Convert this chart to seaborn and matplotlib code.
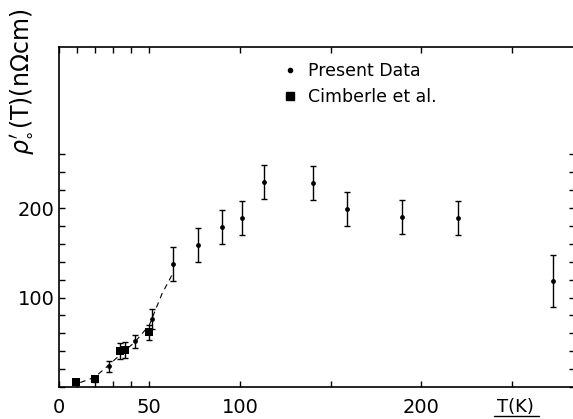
import matplotlib
matplotlib.use("Agg")
import matplotlib.pyplot as plt
import seaborn as sns
import pandas as pd
from matplotlib.lines import Line2D

# Datos
present_T = [28, 42, 51.5, 63, 77, 90, 101, 113, 140, 159, 189, 220, 272.5]
present_rho = [23, 51, 76, 138, 159, 179, 189, 229, 228, 199, 190, 189, 118]
present_err = [6, 7, 11, 19, 19, 19, 19, 19, 19, 19, 19, 19, 29]

cimberle_T = [9.5, 20, 34, 36.5, 49.7]
cimberle_rho = [6, 9, 40, 41, 61]
cimberle_err = [0, 3, 9, 9, 8]

guia_T = [12, 20, 28, 35, 42, 50, 57, 63]
guia_rho = [5, 11, 25, 38, 50, 69, 104, 127]

x_ticks = [0, 10, 20, 30, 40, 50, 100, 150, 200, 250]
x_labels = ["0", "", "", "", "", "50", "100", "", "200", ""]
y_ticks = list(range(0, 280, 20))
y_labels = ["100" if v == 100 else "200" if v == 200 else "" for v in y_ticks]

df_p = pd.DataFrame({"T": present_T, "rho": present_rho})
df_c = pd.DataFrame({"T": cimberle_T, "rho": cimberle_rho})
df_g = pd.DataFrame({"T": guia_T, "rho": guia_rho})

sns.set_style("ticks")
plt.rcParams["font.family"] = ["DejaVu Sans"]
plt.rcParams["text.color"] = "black"
plt.rcParams["xtick.color"] = "black"
plt.rcParams["ytick.color"] = "black"

fig = plt.figure(figsize=(5.73, 4.19), dpi=100)
ax = fig.add_axes([58.5 / 573, 1 - 387 / 419, (575 - 58.5) / 573, (387 - 47) / 419])

# Curva guia (discontinua)
sns.lineplot(data=df_g, x="T", y="rho", ax=ax, color="black", lw=0.8,
             dashes=False, sort=False)
ax.lines[-1].set_dashes([5, 4])

# Barras de error
ax.errorbar(present_T, present_rho, yerr=present_err, fmt="none", ecolor="black",
            elinewidth=1.0, capsize=2.3, capthick=1.0)
ax.errorbar(cimberle_T, cimberle_rho, yerr=cimberle_err, fmt="none", ecolor="black",
            elinewidth=1.0, capsize=2.3, capthick=1.0)

# Puntos
sns.scatterplot(data=df_p, x="T", y="rho", ax=ax, color="black", marker="o",
                s=12, edgecolor="black", linewidth=0, zorder=5)
sns.scatterplot(data=df_c, x="T", y="rho", ax=ax, color="black", marker="s",
                s=40, edgecolor="black", linewidth=0, zorder=5)

ax.set_xlim(0, 284.6)
ax.set_ylim(0, 380)
ax.set_xlabel("")
ax.set_ylabel("")

for s in ax.spines.values():
    s.set_linewidth(1.2)
    s.set_color("black")

ax.set_xticks(x_ticks)
ax.set_xticklabels(x_labels, fontsize=14)
ax.set_yticks(y_ticks)
ax.set_yticklabels(y_labels, fontsize=14)
ax.tick_params(axis="x", direction="in", top=True, bottom=True, length=4,
               width=1.0, pad=8, labelcolor="black")
ax.tick_params(axis="y", direction="in", left=True, right=True, length=4,
               width=1.0, pad=3, labelcolor="black")

# Etiqueta del eje x en lugar de 250
ax.text(252, -0.031, "T(K)", transform=ax.get_xaxis_transform(), ha="center",
        va="top", fontsize=13)
ax.add_line(Line2D([240, 265], [-0.086, -0.086], transform=ax.get_xaxis_transform(),
                   color="black", lw=1.0, clip_on=False))

# Etiqueta del eje y
fig.text(22 / 573, 1 - 82 / 419, r"$\rho_{\circ}^{\prime}$(T)(n$\Omega$cm)",
         rotation=90, ha="center", va="center", fontsize=17)

# Leyenda
handles = [Line2D([], [], marker="o", ls="", color="black", ms=3),
           Line2D([], [], marker="s", ls="", color="black", ms=5.5)]
ax.legend(handles, ["Present Data", "Cimberle et al."], loc="upper left",
          bbox_to_anchor=(0.4385, 0.957), frameon=False, fontsize=12.5,
          handlelength=0.6, handletextpad=0.7, labelspacing=0.5,
          borderpad=0, borderaxespad=0)

fig.savefig("out.png", dpi=100)
